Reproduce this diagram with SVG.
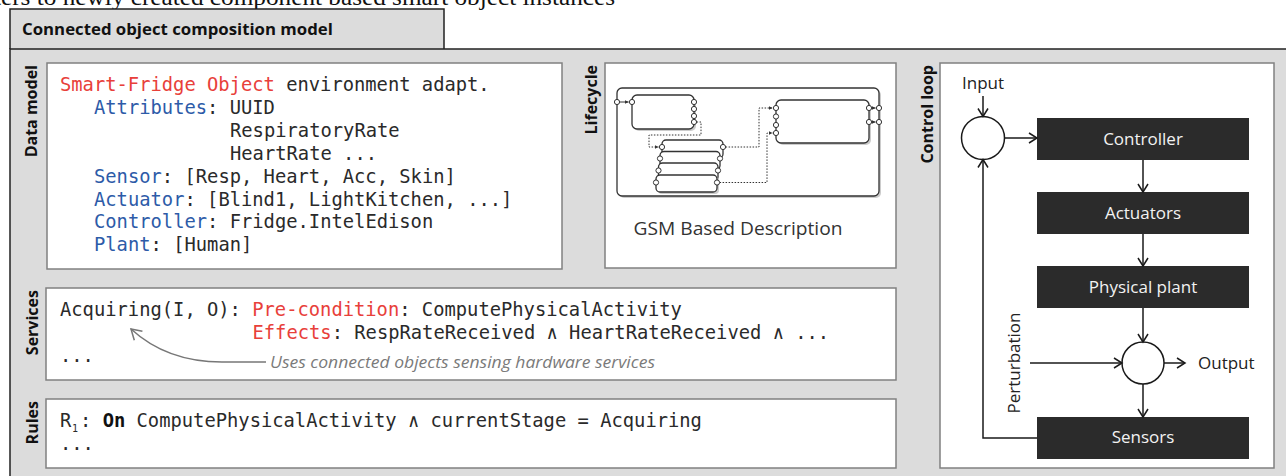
<svg xmlns="http://www.w3.org/2000/svg" width="1286" height="476" viewBox="0 0 1286 476">
<style>
.panel{fill:#dcdcdc;stroke:#222;stroke-width:1.5}
.box{fill:#fff;stroke:#808080;stroke-width:1.5}
.lbl{font-family:"Open Sans","Noto Sans",sans-serif;font-weight:bold;font-size:16px;fill:#111}
.mono{font-family:"DejaVu Sans Mono","Liberation Mono",monospace;font-size:18.8px;fill:#2a2a2a}
.red{fill:#e8403a}
.blue{fill:#2d5ba8}
.sans{font-family:"Open Sans","Noto Sans",sans-serif;font-size:17px;fill:#222}
.blk{fill:#2b2b2b}
.wt{font-family:"Open Sans","Noto Sans",sans-serif;font-size:17px;fill:#f2f2f2;text-anchor:middle}
.ln{fill:none;stroke:#1a1a1a;stroke-width:1.5}
.gs{fill:#fff;stroke:#333;stroke-width:1.3}
.port{fill:#fff;stroke:#333;stroke-width:1}
.dot{fill:none;stroke:#333;stroke-width:1;stroke-dasharray:1.5 1.5}
</style>
<defs>
<marker id="arr" viewBox="0 0 12 12" refX="10" refY="6" markerWidth="12" markerHeight="12" markerUnits="userSpaceOnUse" orient="auto">
<path d="M2,1 L10,6 L2,11" fill="none" stroke="#1a1a1a" stroke-width="1.5"/>
</marker>
<marker id="garr" viewBox="0 0 14 14" refX="12" refY="7" markerWidth="14" markerHeight="14" markerUnits="userSpaceOnUse" orient="auto">
<path d="M2,1 L12,7 L2,13" fill="none" stroke="#777" stroke-width="1.5"/>
</marker>
<marker id="tri" viewBox="0 0 6 6" refX="6" refY="3" markerWidth="4" markerHeight="4" markerUnits="userSpaceOnUse" orient="auto">
<path d="M0,0 L6,3 L0,6 Z" fill="#333"/>
</marker>
</defs>

<text x="-6" y="5" font-family="Liberation Serif,serif" font-size="23" fill="#111" textLength="621" lengthAdjust="spacingAndGlyphs">ters to newly created component based smart object instances</text>

<g id="frame">
<path class="panel" d="M10,49 L10,9 L444,9 L444,49"/>
<rect class="panel" x="10" y="49" width="1290" height="440"/>
<text x="22" y="35" font-family="Open Sans,Noto Sans,sans-serif" font-weight="bold" font-size="16.8" fill="#111">Connected object composition model</text>
</g>

<g id="data-model">
<text class="lbl" transform="translate(37,65) rotate(-90)" text-anchor="end">Data model</text>
<rect class="box" x="47" y="63" width="515" height="206"/>
<text class="mono" x="60" y="91"><tspan class="red">Smart-Fridge Object</tspan> environment adapt.</text>
<text class="mono" x="94" y="114"><tspan class="blue">Attributes</tspan>: UUID</text>
<text class="mono" x="230" y="137">RespiratoryRate</text>
<text class="mono" x="230" y="160">HeartRate ...</text>
<text class="mono" x="94" y="183"><tspan class="blue">Sensor</tspan>: [Resp, Heart, Acc, Skin]</text>
<text class="mono" x="94" y="206"><tspan class="blue">Actuator</tspan>: [Blind1, LightKitchen, ...]</text>
<text class="mono" x="94" y="228"><tspan class="blue">Controller</tspan>: Fridge.IntelEdison</text>
<text class="mono" x="94" y="251"><tspan class="blue">Plant</tspan>: [Human]</text>
</g>

<g id="lifecycle">
<text class="lbl" transform="translate(597,65) rotate(-90)" text-anchor="end">Lifecycle</text>
<rect class="box" x="605" y="63" width="291" height="205"/>
<rect x="619" y="90" width="262" height="108" rx="5" fill="#ccc"/>
<rect class="gs" x="617" y="88" width="262" height="108" rx="5"/>
<rect x="634" y="97" width="62" height="34" rx="5" fill="#ccc"/>
<rect class="gs" x="632" y="95" width="62" height="34" rx="5"/>
<rect x="778" y="102" width="93" height="43" rx="5" fill="#ccc"/>
<rect class="gs" x="776" y="100" width="93" height="43" rx="5"/>
<path class="dot" d="M696.6,122 L701,122 L701,135 L649,135 L649,147 L658.5,147" marker-end="url(#tri)"/>
<path class="dot" d="M725.6,147 L759,147 L759,108 L772.5,108" marker-end="url(#tri)"/>
<path class="dot" d="M719.6,182.5 L767,182.5 L767,133 L772.5,133" marker-end="url(#tri)"/>
<rect class="gs" x="662" y="140" width="61" height="18" rx="4"/>
<rect class="gs" x="660" y="151.5" width="60" height="18" rx="4"/>
<rect class="gs" x="658.5" y="163" width="59.5" height="18" rx="4"/>
<rect x="658" y="177" width="61" height="17" rx="4" fill="#ccc"/>
<rect class="gs" x="656" y="175" width="61" height="17" rx="4"/>
<path d="M619.6,102 L628.6,102" stroke="#333" stroke-width="1" marker-end="url(#tri)"/>
<path d="M871.6,108 L875.6,108" stroke="#333" stroke-width="1" marker-end="url(#tri)"/>
<path d="M871.6,122 L875.6,122" stroke="#333" stroke-width="1" marker-end="url(#tri)"/>
<circle class="port" cx="617" cy="102" r="2.6"/>
<circle class="port" cx="632" cy="102" r="2.6"/>
<circle class="port" cx="694" cy="102" r="2.6"/>
<circle class="port" cx="694" cy="109" r="2.6"/>
<circle class="port" cx="694" cy="116" r="2.6"/>
<circle class="port" cx="694" cy="122" r="2.6"/>
<circle class="port" cx="662" cy="147" r="2.6"/>
<circle class="port" cx="723" cy="147" r="2.6"/>
<circle class="port" cx="660" cy="158.5" r="2.6"/>
<circle class="port" cx="720" cy="158.5" r="2.6"/>
<circle class="port" cx="658.5" cy="170.5" r="2.6"/>
<circle class="port" cx="718" cy="170.5" r="2.6"/>
<circle class="port" cx="656" cy="182.5" r="2.6"/>
<circle class="port" cx="717" cy="182.5" r="2.6"/>
<circle class="port" cx="776" cy="108" r="2.6"/>
<circle class="port" cx="776" cy="116.5" r="2.6"/>
<circle class="port" cx="776" cy="125" r="2.6"/>
<circle class="port" cx="776" cy="133" r="2.6"/>
<circle class="port" cx="869" cy="108" r="2.6"/>
<circle class="port" cx="869" cy="122" r="2.6"/>
<circle class="port" cx="879" cy="108" r="2.6"/>
<circle class="port" cx="879" cy="122" r="2.6"/>
<text x="738" y="235" text-anchor="middle" font-family="Open Sans,Noto Sans,sans-serif" font-size="17.5" fill="#333" textLength="209" lengthAdjust="spacingAndGlyphs">GSM Based Description</text>
</g>

<g id="services">
<text class="lbl" transform="translate(38,290) rotate(-90)" text-anchor="end">Services</text>
<rect class="box" x="46" y="288" width="850" height="92"/>
<text class="mono" x="60" y="316">Acquiring(I, O): <tspan class="red">Pre-condition</tspan>: ComputePhysicalActivity</text>
<text class="mono" x="252.5" y="339"><tspan class="red">Effects</tspan>: RespRateReceived ∧ HeartRateReceived ∧ ...</text>
<text class="mono" x="60" y="362">...</text>
<path d="M266,362 L222,362 C186,362 156,352 131,329" fill="none" stroke="#777" stroke-width="1.5" marker-end="url(#garr)"/>
<text x="270" y="368" font-family="Open Sans,Noto Sans,sans-serif" font-style="italic" font-size="16.5" fill="#7a7a7a" textLength="385" lengthAdjust="spacingAndGlyphs">Uses connected objects sensing hardware services</text>
</g>

<g id="rules">
<text class="lbl" transform="translate(38,401) rotate(-90)" text-anchor="end">Rules</text>
<rect class="box" x="46" y="399" width="850" height="69"/>
<text class="mono" x="60" y="427">R</text>
<text x="72" y="432" font-family="DejaVu Sans Mono,Liberation Mono,monospace" font-size="10" fill="#2a2a2a">1</text>
<text class="mono" x="80" y="427">: <tspan font-weight="bold" fill="#111">On</tspan> ComputePhysicalActivity ∧ currentStage = Acquiring</text>
<text class="mono" x="60" y="450">...</text>
</g>

<g id="control-loop">
<text class="lbl" transform="translate(933,65) rotate(-90)" text-anchor="end">Control loop</text>
<rect class="box" x="940" y="63" width="334" height="405"/>
</g>
<g id="input-label"><text class="sans" x="983" y="89" text-anchor="middle">Input</text></g>
<g id="sum1"><circle cx="983" cy="138" r="21.5" fill="#fff" stroke="#1a1a1a" stroke-width="1.5"/></g>
<g id="controller"><rect class="blk" x="1037" y="118" width="212" height="42"/><text class="wt" x="1143" y="145">Controller</text></g>
<g id="actuators"><rect class="blk" x="1037" y="192" width="212" height="42"/><text class="wt" x="1143" y="219">Actuators</text></g>
<g id="plant"><rect class="blk" x="1037" y="266" width="212" height="42"/><text class="wt" x="1143" y="293">Physical plant</text></g>
<g id="sum2"><circle cx="1143" cy="363" r="21" fill="#fff" stroke="#1a1a1a" stroke-width="1.5"/></g>
<g id="sensors"><rect class="blk" x="1037" y="417" width="212" height="42"/><text class="wt" x="1143" y="443">Sensors</text></g>
<g id="output-label"><text class="sans" x="1198" y="369">Output</text></g>
<g id="perturbation-label"><text class="sans" transform="translate(1020,363) rotate(-90)" text-anchor="middle">Perturbation</text></g>

<g id="connectors">
<path class="ln" d="M983,96 L983,116.5" marker-end="url(#arr)"/>
<path class="ln" d="M1004.5,138 L1037,138" marker-end="url(#arr)"/>
<path class="ln" d="M1143,160 L1143,192" marker-end="url(#arr)"/>
<path class="ln" d="M1143,234 L1143,266" marker-end="url(#arr)"/>
<path class="ln" d="M1143,308 L1143,342" marker-end="url(#arr)"/>
<path class="ln" d="M1030,363 L1122,363" marker-end="url(#arr)"/>
<path class="ln" d="M1164,363 L1185,363" marker-end="url(#arr)"/>
<path class="ln" d="M1143,384 L1143,417" marker-end="url(#arr)"/>
<path class="ln" d="M1037,438 L983,438 L983,159.5" marker-end="url(#arr)"/>
</g>
</svg>
